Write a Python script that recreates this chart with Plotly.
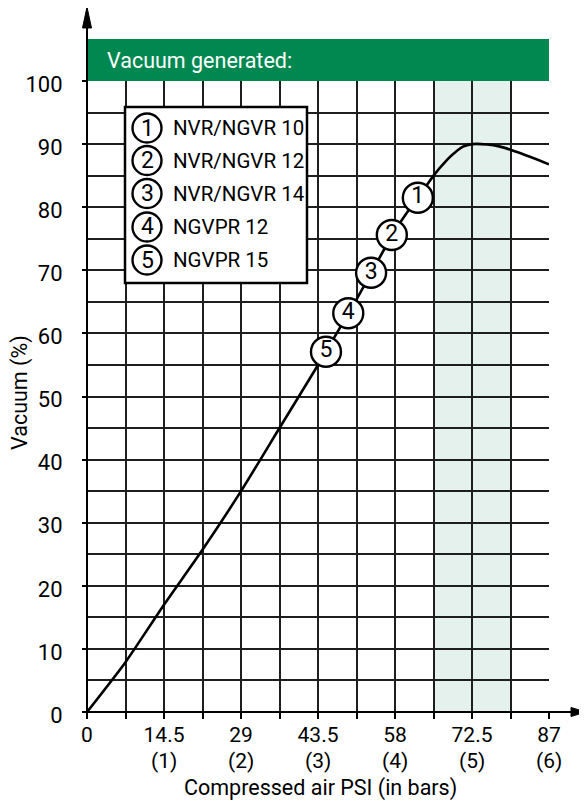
import plotly.graph_objects as go

# ---- data ----
psi = [0, 7.25, 14.5, 21.75, 29, 36.25, 43.5, 50.75, 58, 62.5, 64.0, 65.25, 67.8, 68.9, 70.8, 72.5, 75.3, 77.8, 79.75, 83.4, 87]
vacuum = [0, 7.9, 17, 25.7, 35, 45, 55, 65.4, 76.3, 81.8, 83.5, 85.0, 87.5, 88.4, 89.6, 90.0, 89.95, 89.6, 89.1, 88.0, 86.8]

marker_ids = ["1", "2", "3", "4", "5"]
marker_psi = [62.3, 57.4, 53.5, 49.2, 45.0]
marker_vac = [81.5, 75.6, 69.6, 63.2, 57.1]
legend_names = ["NVR/NGVR 10", "NVR/NGVR 12", "NVR/NGVR 14", "NGVPR 12", "NGVPR 15"]

x_tickvals = [0, 14.5, 29, 43.5, 58, 72.5, 87]
x_ticktext = ["0", "14.5", "29", "43.5", "58", "72.5", "87"]
bar_vals = [14.5, 29, 43.5, 58, 72.5, 87]
bar_text = ["(1)", "(2)", "(3)", "(4)", "(5)", "(6)"]

band = [65.25, 79.75]
header_text = "Vacuum generated:"
x_title = "Compressed air PSI (in bars)"
y_title = "Vacuum (%)"

# ---- layout geometry ----
OFF = 8  # page body margin offset
X0S, X1S, Y0S, Y1S = 87, 549, 712, 81   # plot area in screenshot pixels
W, H = 587 - OFF, 806 - OFF
L, T = X0S - OFF, Y1S - OFF
R = W - (X1S - OFF)
B = H - (Y0S - OFF)
PW, PH = X1S - X0S, Y0S - Y1S

def px(x):
    return (x - X0S) / PW

def py(y):
    return (Y0S - y) / PH

FONT = "Roboto, Liberation Sans, sans-serif"
GRID = "#1e1e1e"
GREEN = "#008850"
BAND = "#e5f1ec"

fig = go.Figure()

fig.add_trace(go.Scatter(
    x=psi, y=vacuum, mode="lines",
    line=dict(color="black", width=2.6, shape="spline", smoothing=0.6),
    hoverinfo="skip", showlegend=False,
))
fig.add_trace(go.Scatter(
    x=marker_psi, y=marker_vac, mode="markers+text",
    text=marker_ids, textposition="middle center",
    textfont=dict(family=FONT, size=23, color="black"),
    marker=dict(size=30, color="white", line=dict(color="black", width=2.4)),
    hoverinfo="skip", showlegend=False,
))

shapes = []
shapes.append(dict(type="rect", xref="x", yref="y", x0=band[0], x1=band[1], y0=0, y1=100,
                   fillcolor=BAND, line=dict(width=0), layer="below"))
shapes.append(dict(type="rect", xref="paper", yref="paper", x0=0, x1=1, y0=1, y1=py(39),
                   fillcolor=GREEN, line=dict(width=0), layer="above"))
shapes.append(dict(type="line", xref="paper", yref="paper", x0=0, x1=0, y0=py(714), y1=py(24),
                   line=dict(color="black", width=2)))
shapes.append(dict(type="path", xref="paper", yref="paper",
                   path=f"M {px(87)},{py(7)} L {px(82.5)},{py(28)} L {px(91.5)},{py(28)} Z",
                   fillcolor="black", line=dict(color="black", width=1)))
shapes.append(dict(type="line", xref="paper", yref="paper", x0=px(86), x1=px(574), y0=0, y1=0,
                   line=dict(color="black", width=2)))
shapes.append(dict(type="path", xref="paper", yref="paper",
                   path=f"M {px(586)},{py(712)} L {px(571)},{py(707.5)} L {px(571)},{py(716.5)} Z",
                   fillcolor="black", line=dict(color="black", width=1)))
shapes.append(dict(type="rect", xref="paper", yref="paper", x0=px(125), x1=px(307),
                   y0=py(283), y1=py(107), fillcolor="white",
                   line=dict(color="black", width=2.5), layer="above"))

annotations = []
annotations.append(dict(text=header_text, xref="paper", yref="paper", x=px(105), y=py(60),
                        xanchor="left", yanchor="middle", showarrow=False,
                        font=dict(family=FONT, size=21.5, color="white")))
row_y = [128, 160.5, 193.5, 227, 260]
for i, (mid, name) in enumerate(zip(marker_ids, legend_names)):
    cy = row_y[i]
    r = 14.5
    shapes.append(dict(type="circle", xref="paper", yref="paper",
                       x0=px(147 - r), x1=px(147 + r), y0=py(cy + r), y1=py(cy - r),
                       fillcolor="white", line=dict(color="black", width=2.4), layer="above"))
    annotations.append(dict(text=mid, xref="paper", yref="paper", x=px(147), y=py(cy),
                            xanchor="center", yanchor="middle", showarrow=False,
                            font=dict(family=FONT, size=23, color="black")))
    annotations.append(dict(text=name, xref="paper", yref="paper", x=px(171), y=py(cy),
                            xanchor="left", yanchor="middle", showarrow=False,
                            font=dict(family=FONT, size=20.5, color="black")))

for v, t in zip(bar_vals, bar_text):
    annotations.append(dict(text=t, xref="x", yref="paper", x=v, y=py(761),
                            xanchor="center", yanchor="middle", showarrow=False,
                            font=dict(family=FONT, size=21, color="black")))

annotations.append(dict(text=x_title, xref="paper", yref="paper", x=px(320), y=py(788),
                        xanchor="center", yanchor="middle", showarrow=False,
                        font=dict(family=FONT, size=21.5, color="black")))
annotations.append(dict(text=y_title, xref="paper", yref="paper", x=px(20), y=py(393),
                        xanchor="center", yanchor="middle", showarrow=False, textangle=-90,
                        font=dict(family=FONT, size=21.5, color="black")))

fig.update_layout(
    width=W, height=H, autosize=False,
    margin=dict(l=L, r=R, t=T, b=B, pad=0),
    paper_bgcolor="white", plot_bgcolor="white",
    font=dict(family=FONT, size=22, color="black"),
    shapes=shapes, annotations=annotations, showlegend=False,
)
fig.update_xaxes(
    range=[0, 87], tickvals=x_tickvals, ticktext=x_ticktext,
    ticks="outside", ticklen=6, tickwidth=1.5, tickcolor="black",
    showgrid=True, gridcolor=GRID, gridwidth=1.8, zeroline=False, showline=False,
    tickfont=dict(family=FONT, size=21, color="black"),
    ticklabelstandoff=-2,
    minor=dict(dtick=7.25, tick0=0, ticks="outside", ticklen=6, tickwidth=1.5, tickcolor="black",
               showgrid=True, gridcolor=GRID, gridwidth=1.8),
    fixedrange=True,
)
fig.update_yaxes(
    range=[0, 100], dtick=10, tick0=0,
    ticks="outside", ticklen=4, tickwidth=1.5, tickcolor="black",
    showgrid=True, gridcolor=GRID, gridwidth=1.8, zeroline=False, showline=False,
    tickfont=dict(family=FONT, size=22, color="black"),
    ticklabelstandoff=15, ticklabelshift=3,
    minor=dict(dtick=5, tick0=0, ticks="", showgrid=True, gridcolor=GRID, gridwidth=1.8),
    fixedrange=True,
)

fig.write_html("out.html")
